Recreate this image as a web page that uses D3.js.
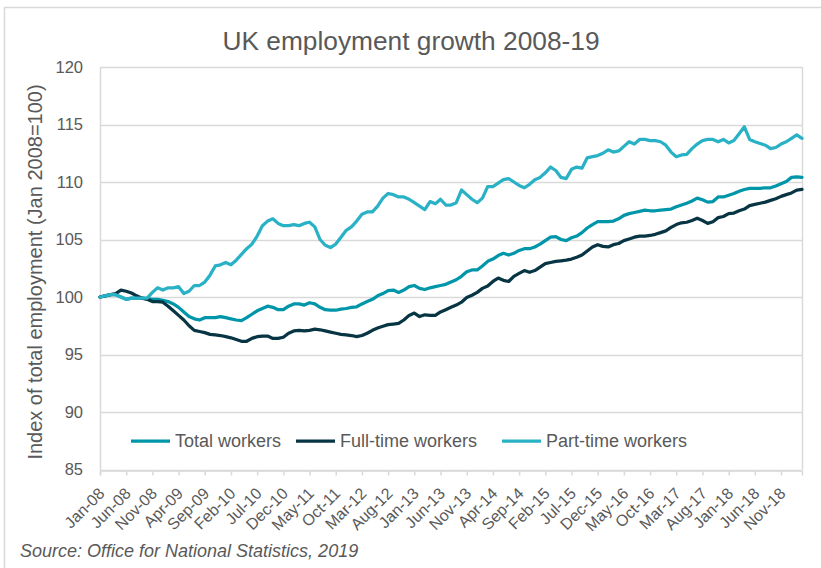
<!DOCTYPE html>
<html>
<head>
<meta charset="utf-8">
<script src="https://cdn.jsdelivr.net/npm/d3@7"></script>
<style>
  html, body { margin: 0; padding: 0; background: #fff; }
  svg { display: block; font-family: Arial, "Liberation Sans", sans-serif; }
</style>
</head>
<body>
<svg id="chart" width="821" height="568"></svg>
<script>
// Monthly categories, Jan 2008 to Mar 2019
const months = d3.timeMonth.range(new Date(2008, 0, 1), new Date(2019, 3, 1)).map(d3.timeFormat("%b-%y"));

// Labelled ticks on the category axis (every fifth month)
const tickLabels = ["Jan-08","Jun-08","Nov-08","Apr-09","Sep-09","Feb-10","Jul-10","Dec-10","May-11","Oct-11",
  "Mar-12","Aug-12","Jan-13","Jun-13","Nov-13","Apr-14","Sep-14","Feb-15","Jul-15","Dec-15",
  "May-16","Oct-16","Mar-17","Aug-17","Jan-18","Jun-18","Nov-18"];

const yTicks = [85, 90, 95, 100, 105, 110, 115, 120];

// Index of employment, Jan 2008 = 100
const totalWorkers = [
  100.0,100.1,100.2,100.2,100.0,99.8,99.9,99.9,99.9,99.85,
  99.8,99.8,99.7,99.6,99.4,99.1,98.7,98.3,98.1,98.0,
  98.2,98.2,98.2,98.3,98.2,98.1,98.0,97.95,98.2,98.5,
  98.8,99.0,99.2,99.1,98.9,98.9,99.2,99.4,99.4,99.3,
  99.5,99.4,99.1,98.9,98.85,98.85,98.95,99.0,99.1,99.15,
  99.4,99.6,99.8,100.1,100.3,100.55,100.6,100.4,100.6,100.9,
  101.0,100.75,100.65,100.8,100.9,101.0,101.1,101.3,101.5,101.8,
  102.2,102.35,102.35,102.7,103.1,103.3,103.6,103.8,103.65,103.8,
  104.05,104.2,104.2,104.35,104.6,104.9,105.2,105.25,105.0,104.9,
  105.15,105.3,105.6,106.0,106.3,106.55,106.55,106.55,106.6,106.8,
  107.1,107.25,107.35,107.45,107.55,107.5,107.5,107.55,107.6,107.65,
  107.85,108.0,108.15,108.35,108.6,108.45,108.25,108.3,108.7,108.7,
  108.85,109.0,109.2,109.35,109.45,109.45,109.45,109.5,109.5,109.65,
  109.85,110.05,110.4,110.45,110.4
];

const fullTimeWorkers = [
  100.0,100.1,100.2,100.3,100.6,100.5,100.35,100.1,99.9,99.8,
  99.6,99.6,99.55,99.2,98.8,98.4,98.0,97.5,97.1,97.0,
  96.9,96.75,96.7,96.65,96.55,96.45,96.3,96.15,96.15,96.4,
  96.55,96.6,96.6,96.4,96.4,96.5,96.85,97.05,97.1,97.05,
  97.1,97.2,97.15,97.05,96.95,96.85,96.75,96.7,96.65,96.55,
  96.65,96.85,97.1,97.3,97.45,97.6,97.65,97.7,98.0,98.4,
  98.6,98.3,98.45,98.4,98.4,98.7,98.9,99.1,99.3,99.55,
  99.95,100.15,100.4,100.75,100.95,101.35,101.65,101.45,101.35,101.8,
  102.05,102.3,102.15,102.3,102.6,102.9,103.0,103.1,103.15,103.2,
  103.3,103.45,103.65,104.0,104.35,104.55,104.4,104.35,104.55,104.65,
  104.9,105.05,105.2,105.3,105.3,105.35,105.45,105.6,105.75,106.05,
  106.3,106.45,106.5,106.65,106.85,106.65,106.4,106.55,106.9,107.0,
  107.25,107.3,107.5,107.65,107.95,108.05,108.15,108.25,108.4,108.55,
  108.75,108.9,109.05,109.3,109.35
];

const partTimeWorkers = [
  100.0,100.1,100.2,100.2,100.0,99.8,99.9,99.9,99.9,99.9,
  100.4,100.8,100.6,100.8,100.8,100.9,100.3,100.5,101.0,101.0,
  101.3,101.9,102.7,102.8,103.0,102.8,103.2,103.7,104.2,104.6,
  105.3,106.2,106.6,106.8,106.4,106.2,106.2,106.3,106.2,106.4,
  106.5,106.1,105.0,104.5,104.3,104.6,105.2,105.8,106.1,106.6,
  107.2,107.4,107.4,107.9,108.6,109.0,108.9,108.7,108.7,108.5,
  108.2,107.9,107.6,108.3,108.1,108.5,108.0,108.0,108.2,109.3,
  108.9,108.5,108.2,108.6,109.6,109.6,109.9,110.2,110.3,110.0,
  109.7,109.5,109.8,110.2,110.4,110.8,111.3,111.0,110.4,110.3,
  111.1,111.3,111.2,112.1,112.2,112.3,112.5,112.8,112.6,112.7,
  113.1,113.5,113.3,113.7,113.7,113.6,113.6,113.5,113.2,112.6,
  112.2,112.35,112.4,112.9,113.3,113.6,113.7,113.7,113.5,113.7,
  113.4,113.6,114.2,114.8,113.7,113.5,113.35,113.2,112.9,113.0,
  113.3,113.5,113.8,114.1,113.8
];

const seriesNames = ["Total workers", "Full-time workers", "Part-time workers"];
const seriesColors = ["#0096a9", "#083544", "#29b1c6"];
const seriesValues = [totalWorkers, fullTimeWorkers, partTimeWorkers];

const svg = d3.select("#chart");
const textColor = "#595959";
const gridColor = "#d9d9d9";

const plot = { left: 100, right: 802, top: 67, bottom: 469.5 };

// Chart area border
svg.append("rect")
  .attr("x", 4.5).attr("y", 7.5)
  .attr("width", 900).attr("height", 700)
  .attr("fill", "#fff")
  .attr("stroke", gridColor).attr("stroke-width", 1.5);

const x = d3.scalePoint().domain(months).range([plot.left, plot.right]).padding(0);
const y = d3.scaleLinear().domain([85, 120]).range([plot.bottom, plot.top]);

// Title
svg.append("text")
  .attr("x", 411).attr("y", 50)
  .attr("text-anchor", "middle")
  .attr("fill", textColor)
  .style("font-size", "26.3px")
  .text("UK employment growth 2008-19");

// Horizontal gridlines
svg.append("g")
  .selectAll("line")
  .data(yTicks)
  .join("line")
  .attr("x1", plot.left).attr("x2", plot.right)
  .attr("y1", d => Math.round(y(d)) + 0.5).attr("y2", d => Math.round(y(d)) + 0.5)
  .attr("stroke", gridColor).attr("stroke-width", 1.5);

// Plot area right edge
svg.append("line")
  .attr("x1", plot.right + 0.5).attr("x2", plot.right + 0.5)
  .attr("y1", plot.top).attr("y2", plot.bottom)
  .attr("stroke", gridColor).attr("stroke-width", 1.5);

// Y axis
const yAxis = svg.append("g")
  .attr("transform", `translate(${plot.left},0)`)
  .call(d3.axisLeft(y).tickValues(yTicks).tickSize(0).tickPadding(17));
yAxis.select(".domain").attr("stroke", gridColor).attr("stroke-width", 1.5);
yAxis.selectAll("text")
  .attr("fill", textColor)
  .style("font-size", "16.5px")
  .style("font-family", "Arial, 'Liberation Sans', sans-serif");

// X axis
const xAxis = svg.append("g")
  .attr("transform", `translate(0,${Math.round(plot.bottom) + 0.5})`)
  .call(d3.axisBottom(x).tickValues(tickLabels).tickSizeOuter(0).tickSize(5));
xAxis.select(".domain").attr("stroke", gridColor).attr("stroke-width", 1.5);
xAxis.selectAll(".tick line").attr("stroke", gridColor).attr("stroke-width", 1.5);
xAxis.selectAll("text")
  .attr("fill", textColor)
  .style("font-size", "16px")
  .style("font-family", "Arial, 'Liberation Sans', sans-serif")
  .attr("text-anchor", "end")
  .attr("transform", "translate(-8.5,10.5) rotate(-45)")
  .attr("dx", 0).attr("dy", "0.7em");

// Y axis title
svg.append("text")
  .attr("transform", "translate(42,272) rotate(-90)")
  .attr("text-anchor", "middle")
  .attr("fill", textColor)
  .style("font-size", "20px")
  .text("Index of total employment  (Jan 2008=100)");

// Series lines
const line = d3.line()
  .x((d, i) => x(months[i]))
  .y(d => y(d));

svg.append("g")
  .selectAll("path")
  .data(seriesValues)
  .join("path")
  .attr("d", d => line(d))
  .attr("fill", "none")
  .attr("stroke", (d, i) => seriesColors[i])
  .attr("stroke-width", 3.25)
  .attr("stroke-linejoin", "round")
  .attr("stroke-linecap", "round");

// Legend
const legendTextX = [175, 340, 546];
const legend = svg.append("g")
  .selectAll("g")
  .data(seriesNames)
  .join("g")
  .attr("transform", (d, i) => `translate(${legendTextX[i]},441)`);
legend.append("line")
  .attr("x1", -44).attr("x2", -5)
  .attr("stroke", (d, i) => seriesColors[i])
  .attr("stroke-width", 3.25);
legend.append("text")
  .attr("x", 0).attr("y", 0)
  .attr("dy", "0.35em")
  .attr("fill", textColor)
  .style("font-size", "18px")
  .text(d => d);

// Source note
svg.append("text")
  .attr("x", 20).attr("y", 557)
  .attr("fill", textColor)
  .style("font-size", "18px")
  .style("font-style", "italic")
  .text("Source: Office for National Statistics, 2019");
</script>
</body>
</html>
